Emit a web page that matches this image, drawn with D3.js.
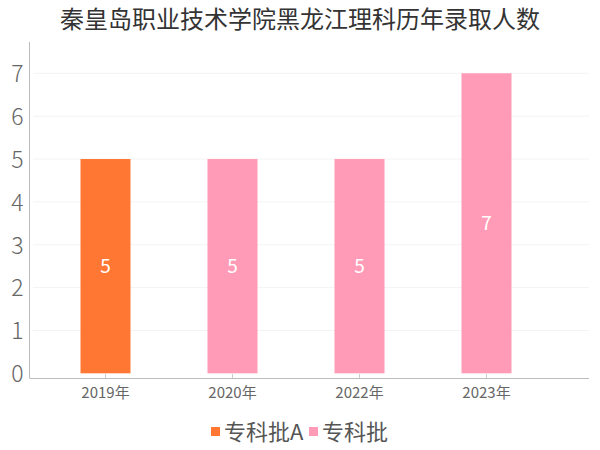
<!DOCTYPE html>
<html>
<head>
<meta charset="utf-8">
<script src="https://cdn.jsdelivr.net/npm/d3@7"></script>
<style>
  body { margin: 0; background: #fff; }
  text { font-family: "Noto Sans CJK SC", "Noto Sans", sans-serif; }
</style>
</head>
<body>
<div id="chart"></div>
<script>
// data
var years = ["2019年", "2020年", "2022年", "2023年"];
var counts = [5, 5, 5, 7];
var batches = ["专科批A", "专科批", "专科批", "专科批"];
var legendNames = ["专科批A", "专科批"];
var legendColors = ["#FF7733", "#FF9BB6"];
var yTicks = [0, 1, 2, 3, 4, 5, 6, 7];

var W = 600, H = 450;
var svg = d3.select("#chart").append("svg")
  .attr("width", W).attr("height", H);

var color = d3.scaleOrdinal().domain(legendNames).range(legendColors);

var x = d3.scaleBand().domain(years).range([42, 550]).paddingInner(0).paddingOuter(0);
var y = d3.scaleLinear().domain([0, 7]).range([373.3, 73.3]);
var barW = 50;

// title
svg.append("text")
  .attr("x", 300).attr("y", 28)
  .attr("text-anchor", "middle")
  .style("font-size", "24px")
  .style("fill", "#333")
  .text("秦皇岛职业技术学院黑龙江理科历年录取人数");

// grid lines
svg.append("g").selectAll("line").data(yTicks.slice(1)).enter().append("line")
  .attr("x1", 33).attr("x2", 589)
  .attr("y1", function(d){ return y(d); })
  .attr("y2", function(d){ return y(d); })
  .style("stroke", "#f3f3f3").style("stroke-width", 1);

// y axis
var yAxis = svg.append("g").attr("transform", "translate(29.5,0)")
  .call(d3.axisLeft(y).tickValues(yTicks).tickFormat(d3.format("d")).tickSize(0).tickPadding(6));
yAxis.select(".domain").remove();
yAxis.selectAll("text").style("font-size", "23px").style("fill", "#666")
  .style("font-weight", "300")
  .attr("dy", "0.36em");
svg.append("line").attr("x1", 29.5).attr("x2", 29.5).attr("y1", 42).attr("y2", 378)
  .style("stroke", "#bbb");

// x axis
var xAxis = svg.append("g").attr("transform", "translate(0,378)")
  .call(d3.axisBottom(x).tickSize(4).tickPadding(5));
xAxis.select(".domain").remove();
xAxis.selectAll("line").style("stroke", "#ccc").attr("y1", -4).attr("y2", 0);
xAxis.selectAll("text").style("font-size", "15px").style("fill", "#666");
svg.append("line").attr("x1", 29.5).attr("x2", 589).attr("y1", 378.5).attr("y2", 378.5)
  .style("stroke", "#bbb");

// bars
svg.append("g").selectAll("rect").data(years).enter().append("rect")
  .attr("x", function(d){ return x(d) + x.bandwidth()/2 - barW/2; })
  .attr("width", barW)
  .attr("y", function(d, i){ return y(counts[i]); })
  .attr("height", function(d, i){ return y(0) - y(counts[i]); })
  .style("fill", function(d, i){ return color(batches[i]); });

// value labels
svg.append("g").selectAll("text").data(years).enter().append("text")
  .attr("x", function(d){ return x(d) + x.bandwidth()/2; })
  .attr("y", function(d, i){ return (y(counts[i]) + y(0))/2; })
  .attr("dy", "0.36em")
  .attr("text-anchor", "middle")
  .style("font-size", "19px").style("fill", "#fff")
  .text(function(d, i){ return counts[i]; });

// legend
var legend = svg.append("g");
var lx = [211, 309];
legendNames.forEach(function(n, i){
  legend.append("rect").attr("x", lx[i]).attr("y", 427).attr("width", 9).attr("height", 9)
    .style("fill", color(n));
  legend.append("text").attr("x", lx[i] + 13).attr("y", 432).attr("dy", "0.36em")
    .style("font-size", "22px").style("fill", "#555").text(n);
});
</script>
</body>
</html>
